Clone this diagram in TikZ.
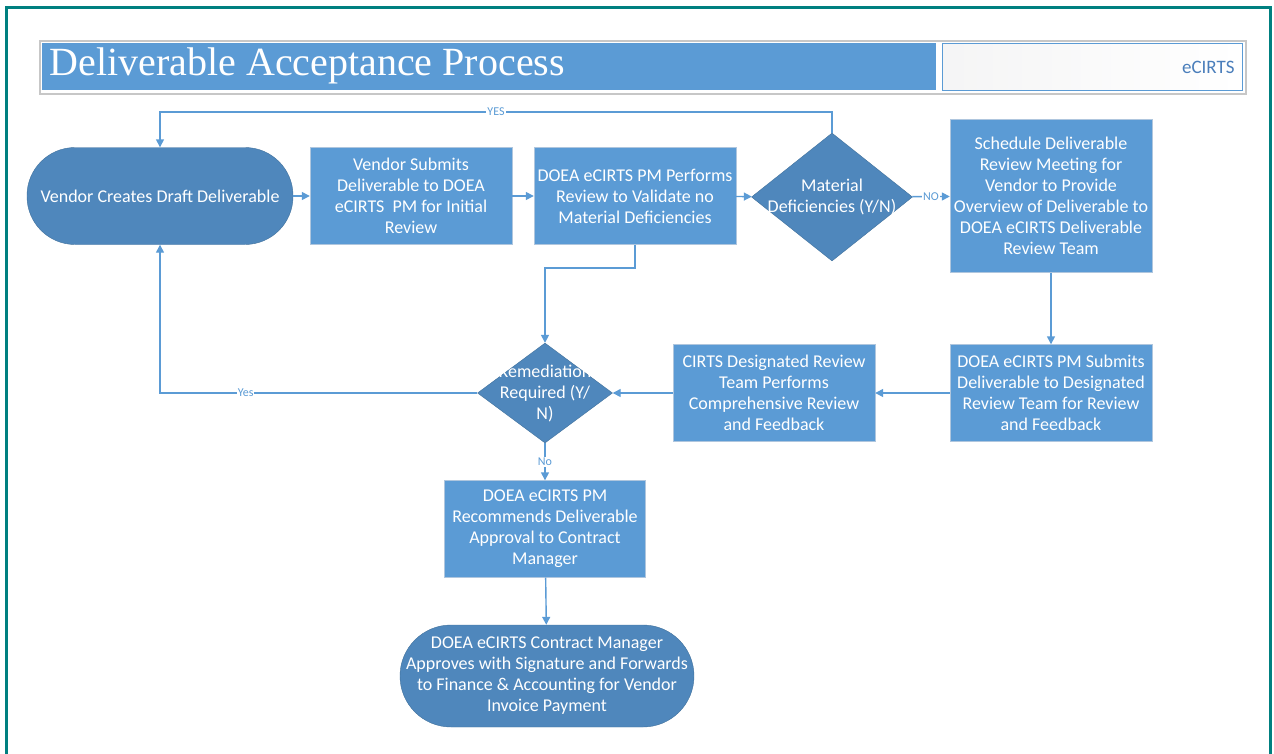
\documentclass[tikz,border=0pt]{standalone}
\usepackage{fontspec}
\setmainfont{Carlito}
\newfontfamily\titlefont{Liberation Serif}
\usetikzlibrary{arrows.meta, positioning, shapes.geometric}
\definecolor{boxblue}{RGB}{91,155,213}
\definecolor{termblue}{RGB}{79,135,188}
\definecolor{termedge}{RGB}{65,113,156}
\definecolor{boxedge}{RGB}{175,198,222}
\definecolor{frameteal}{RGB}{0,128,128}
\definecolor{tagtext}{RGB}{74,126,187}
\tikzset{
    procbox/.style={rectangle, draw=boxedge, fill=boxblue, text=white, align=center,
        minimum width=202pt, minimum height=97pt, inner sep=2pt},
    termbox/.style={rectangle, rounded corners=48pt, draw=termedge, fill=termblue, text=white,
        align=center, minimum width=266pt, minimum height=97pt},
    decision/.style={diamond, draw=termedge, fill=termblue, inner sep=0pt},
    dtext/.style={text=white, align=center, font=\fontsize{18}{21}\selectfont},
    flow/.style={-{Triangle[length=8pt, width=8pt]}, draw=boxblue, line width=1.4pt},
    lbl/.style={font=\fontsize{12}{14}\selectfont, text=boxblue, fill=white, inner sep=1pt}
}
\begin{document}
\begin{tikzpicture}[
  x=1pt, y=-1pt,
  every node/.style={font=\fontsize{18}{21}\selectfont}
]
\useasboundingbox (0,0) rectangle (1274,753);

% Frame and title
\draw[frameteal, line width=3pt] (6.5,770) -- (6.5,7.5) -- (1270,7.5) -- (1270,770);
\node[draw=black!22, line width=1.5pt, minimum width=1206pt, minimum height=53pt, inner sep=0pt, anchor=north west] (titleframe) at (39,40) {};
\node[fill=boxblue, minimum width=894pt, minimum height=47pt, inner sep=0pt, anchor=north west] (titlebar) at (42,43) {};
\node[anchor=west, text=white, font=\titlefont\fontsize{40}{44}\selectfont] (title) at (46,66) {Deliverable Acceptance Process};
\node[draw=boxblue, line width=1pt, left color=blue!6!black!4, right color=white, minimum width=300pt, minimum height=47pt, inner sep=0pt, anchor=north west] (tag) at (942,43) {};
\node[anchor=east, text=tagtext, font=\fontsize{19}{22}\selectfont] (tagname) at ([xshift=-5pt]tag.east) {eCIRTS};

% Nodes
\node[termbox] (start) at (160,196) {Vendor Creates Draft Deliverable};
\node[procbox] (submit) at (411,196) {Vendor Submits\\Deliverable to DOEA\\eCIRTS\ \ PM for Initial\\Review};
\node[procbox] (review) at (635,196) {DOEA eCIRTS PM Performs\\Review to Validate no\\Material Deficiencies};
\node[decision, minimum width=161pt, minimum height=128pt, label={[dtext]center:Material\\Deficiencies (Y/N)}] (matdef) at (832,197) {};
\node[procbox, minimum height=153pt] (meeting) at (1051,196) {Schedule Deliverable\\Review Meeting for\\Vendor to Provide\\Overview of Deliverable to\\DOEA eCIRTS Deliverable\\Review Team};
\node[procbox] (handoff) at (1051,393) {DOEA eCIRTS PM Submits\\Deliverable to Designated\\Review Team for Review\\and Feedback};
\node[procbox] (teamrev) at (774,393) {CIRTS Designated Review\\Team Performs\\Comprehensive Review\\and Feedback};
\node[decision, minimum width=135pt, minimum height=100pt, label={[dtext]center:Remediation\\Required (Y/\\N)}] (remed) at (545,393) {};
\node[procbox, minimum width=201pt] (recommend) at (545,529) {DOEA eCIRTS PM\\Recommends Deliverable\\Approval to Contract\\Manager};
\node[termbox, rounded corners=51pt, minimum width=294pt, minimum height=102pt] (approve) at (547,676) {DOEA eCIRTS Contract Manager\\Approves with Signature and Forwards\\to Finance \& Accounting for Vendor\\Invoice Payment};

\coordinate (yesline) at (0,112);
\coordinate (splitline) at (0,268);

% Main flow
\draw[flow] (start) -- (submit);
\draw[flow] (submit) -- (review);
\draw[flow] (review) -- (matdef);
\draw[flow] (matdef) -- node[lbl] {NO} (meeting);
\draw[flow] (matdef.north) -- (matdef.north |- yesline) -- node[lbl] {YES} (start.north |- yesline) -- (start.north);
\draw[flow] (meeting) -- (handoff);
\draw[flow] (handoff) -- (teamrev);
\draw[flow] (teamrev) -- (remed);
\draw[flow] (review.south) -- (review.south |- splitline) -| (remed.north);

% Remediation outcomes
\draw[flow] (remed.west) -| node[lbl, pos=0.365] {Yes} (start.south);
\draw[flow] (remed) -- node[lbl] {No} (recommend);
\draw[flow] (recommend) -- (approve);
\end{tikzpicture}
\end{document}
